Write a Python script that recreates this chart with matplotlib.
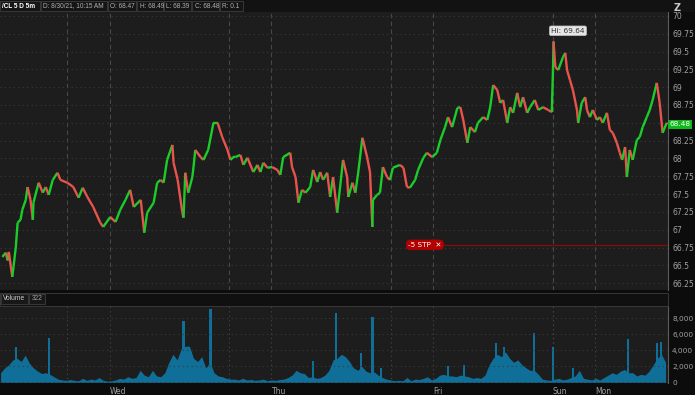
import numpy as np
import matplotlib
matplotlib.use("Agg")
import matplotlib.pyplot as plt
from matplotlib.collections import LineCollection
from matplotlib.ticker import FuncFormatter
from matplotlib.patches import Rectangle

# ---- dados (/CL 5 dias, barras de 5 min) ----
# indice da barra (0 = primeira barra do periodo) e preco de fechamento
barras = [3, 9, 12, 14, 20, 22, 26, 29, 34, 37, 43, 46, 51, 55, 56, 63, 65, 72, 77, 82,
          89, 97, 102, 114, 124, 133, 140, 148, 158, 170, 175, 187, 196, 204, 213, 221, 227, 239, 245, 250,
          261, 267, 273, 278, 284, 293, 295, 302, 310, 312, 315, 320, 327, 329, 332, 341, 346, 354, 363, 370,
          378, 387, 392, 397, 400, 409,
          414, 421, 431, 438, 443, 448, 455, 463, 472, 477, 482, 494, 497, 503, 508, 514, 520, 528, 533, 540,
          545, 550, 557, 562, 567, 574, 579, 584, 591, 593, 600, 605, 610, 617, 618, 625, 630, 634, 635, 642,
          647, 652, 659, 664, 669, 681, 687, 693, 698, 707, 712, 721, 727,
          736, 744, 750, 758, 763, 770, 779, 784, 789, 796, 801, 809, 814, 823, 830, 835, 840, 847, 852, 857,
          864, 869, 874, 881, 886, 891, 898, 903, 911, 917, 925, 934, 940,
          942, 943, 946, 951, 959, 963, 966, 971, 976, 983, 985, 991, 997, 1000, 1005, 1010, 1017, 1022, 1027, 1034,
          1039, 1044, 1051, 1056, 1060, 1065, 1068, 1073, 1078, 1085, 1090, 1095, 1102, 1107, 1112, 1119, 1124, 1129, 1136, 1137]

precos = [66.62, 66.68, 66.57, 66.69, 66.34, 66.48, 66.76, 67.10, 67.14, 67.28, 67.42, 67.60, 67.42, 67.14, 67.38, 67.60, 67.66, 67.52, 67.60, 67.49,
          67.70, 67.80, 67.70, 67.66, 67.60, 67.45, 67.59, 67.46, 67.32, 67.10, 67.04, 67.18, 67.11, 67.28, 67.42, 67.56, 67.32, 67.42, 66.96, 67.24,
          67.38, 67.66, 67.70, 67.66, 67.98, 68.19, 67.94, 67.70, 67.24, 67.17, 67.80, 67.52, 67.74, 67.88, 68.12, 68.02, 67.98, 68.12, 68.50, 68.50,
          68.30, 68.12, 67.98, 68.02, 68.02, 68.05,
          67.91, 68.01, 67.81, 67.91, 67.81, 67.94, 67.87, 67.88, 67.84, 67.77, 68.02, 68.08, 67.88, 67.74, 67.38, 67.56, 67.52, 67.60, 67.84, 67.67,
          67.81, 67.70, 67.80, 67.46, 67.74, 67.24, 67.60, 67.98, 67.74, 67.46, 67.66, 67.52, 67.81, 68.29, 68.26, 68.02, 67.81, 67.04, 67.42, 67.49,
          67.52, 67.88, 67.74, 67.70, 67.87, 67.91, 67.87, 67.60, 67.59, 67.70, 67.84, 68.01, 68.08,
          68.02, 68.08, 68.26, 68.44, 68.58, 68.44, 68.71, 68.72, 68.54, 68.22, 68.44, 68.37, 68.50, 68.58, 68.54, 68.72, 69.03, 68.96, 68.78, 68.82,
          68.50, 68.72, 68.64, 68.92, 68.72, 68.86, 68.64, 68.72, 68.82, 68.68, 68.72, 68.68, 68.65,
          69.24, 69.64, 69.28, 69.24, 69.42, 69.48, 69.24, 69.10, 68.96, 68.68, 68.50, 68.78, 68.86, 68.68, 68.58, 68.68, 68.54, 68.58, 68.50, 68.64,
          68.40, 68.36, 68.22, 68.08, 67.98, 68.16, 67.74, 68.12, 67.98, 68.26, 68.30, 68.44, 68.58, 68.68, 68.82, 69.06, 68.78, 68.36, 68.50, 68.48]

# volume "de fundo" amostrado a cada 7 barras
passo_volume = 7
volumes = [1200, 1800, 2200, 2800, 3000, 2600, 3400, 2400, 1800, 1400, 1100, 1200, 1000, 700, 400, 300, 250, 350, 250, 200,
           500, 250, 400, 300, 600, 250, 150, 200, 300, 500, 400, 700, 500, 600, 1500, 900, 700, 1500, 800, 700,
           1200, 2500, 3500, 2800, 4200, 4500, 4500, 3000, 2600, 3200, 1800, 2500, 1200, 800, 700, 500, 400, 400, 300, 500,
           300, 350, 250, 300, 400, 200, 300, 250, 350, 400, 600, 900, 1500, 1200, 1100, 600, 700, 500, 600, 900,
           1500, 2800, 3000, 3500, 3200, 2600, 1800, 1500, 2000, 1400, 1200, 1300, 900, 600, 400, 300, 200, 250, 200, 600,
           200, 400, 350, 500, 700, 300, 500, 900, 1000, 800, 800, 700, 900, 800, 700, 500, 600, 500, 900, 2200,
           3000, 3500, 3200, 3800, 3000, 2500, 2800, 2200, 1800, 1500, 1500, 1000, 400, 300, 250, 400, 500, 300, 400, 600,
           800, 1500, 500, 400, 300, 500, 300, 600, 900, 1200, 1000, 1400, 1600, 1200, 1200, 800, 1000, 900, 1400, 2200,
           3000, 3500, 2500]

# picos isolados de volume (barra, volume)
picos_barra = [26, 83, 312, 358, 533, 572, 615, 634, 649, 763, 790, 845, 859, 910, 942, 976, 1070, 1119, 1126]
picos_volume = [4400, 5500, 7700, 9200, 2600, 8600, 3600, 8100, 1750, 2000, 2100, 4900, 4400, 6100, 4400, 1750, 5400, 4900, 5000]

# barras onde comeca cada sessao (18h) e onde muda o dia (meia-noite)
inicio_sessao = [114, 390, 666, 942]
troca_dia = [186, 462, 738, 942, 1014]
nomes_dias = ["Wed", "Thu", "Fri", "Sun", "Mon"]

ultimo_preco = 68.48
maxima = 69.64
preco_stop = 66.79

# cores do tema escuro
fundo = "#0c0c0c"
fundo_painel = "#1d1d1d"
cor_grade = "#3a3a3a"
cor_texto = "#a0a0a0"
verde = "#1ccc2a"
vermelho = "#e8544c"
azul_vol = "#0f6f99"

fig = plt.figure(figsize=(6.95, 3.95), dpi=100, facecolor=fundo)
ax = fig.add_axes([0.0, 0.266, 0.961, 0.704], facecolor=fundo_painel)
ax_vol = fig.add_axes([0.0, 0.030, 0.961, 0.195], facecolor=fundo_painel, sharex=ax)

# ---- grafico de preco: cada trecho verde se subiu, vermelho se caiu ----
x = np.array(barras)
y = np.array(precos)
segmentos = [[(x[i - 1], y[i - 1]), (x[i], y[i])] for i in range(1, len(x))]
cores = [verde if y[i] >= y[i - 1] else vermelho for i in range(1, len(x))]
ax.add_collection(LineCollection(segmentos, colors=cores, linewidths=1.7, capstyle="butt"))

ax.set_xlim(-1, 1138)
ax.set_ylim(66.157, 70.056)
ax.set_yticks(np.arange(66.25, 70.01, 0.25))
# o 68.5 fica escondido atras da etiqueta do ultimo preco
ax.yaxis.set_major_formatter(FuncFormatter(lambda v, p: "" if abs(v - 68.5) < 0.01 else f"{v:g}"))
ax.yaxis.tick_right()
ax.tick_params(axis="y", length=0, pad=3, labelsize=5.5, labelcolor=cor_texto)
ax.tick_params(axis="x", bottom=False, labelbottom=False)
ax.grid(axis="y", color=cor_grade, linestyle=(0, (1, 3)), linewidth=0.8)
for s in ["top", "left", "bottom"]:
    ax.spines[s].set_visible(False)
ax.spines["right"].set_color("#5c5c5c")
ax.spines["right"].set_linewidth(0.8)

# linhas verticais dos dias
for b in inicio_sessao + troca_dia:
    ax.axvline(b, color="#474747", linestyle=(0, (4, 3)), linewidth=0.8, zorder=0)
    ax_vol.axvline(b, color="#474747", linestyle=(0, (1, 3)), linewidth=0.8, zorder=0)

# etiqueta da maxima
ax.text(939, 69.79, f"Hi: {maxima}", fontsize=5.3, color="#333333", ha="left", va="center",
        bbox=dict(boxstyle="round,pad=0.25", fc="#e6e6e6", ec="#bbbbbb", lw=0.5))

# ultimo preco na escala da direita
ax.text(1.003, ultimo_preco, f"{ultimo_preco:.2f}", transform=ax.get_yaxis_transform(),
        fontsize=5.3, color="white", ha="left", va="center",
        bbox=dict(boxstyle="square,pad=0.2", fc="#10b81e", ec="none"), clip_on=False)

# ordem de stop
ax.plot([718, 1138], [preco_stop, preco_stop], color="#8a0a0a", linewidth=0.9)
ax.text(695, preco_stop, "-5 STP  ✕", fontsize=5.2, color="white", ha="left", va="center",
        bbox=dict(boxstyle="round,pad=0.3,rounding_size=0.6", fc="#b20000", ec="none"))

# ---- volume ----
pos_vol = np.arange(len(volumes)) * passo_volume
ax_vol.fill_between(pos_vol, 0, volumes, color=azul_vol, linewidth=0)
ax_vol.bar(picos_barra, picos_volume, width=4, color=azul_vol, linewidth=0)
ax_vol.set_ylim(-100, 9500)
ax_vol.set_yticks([0, 2000, 4000, 6000, 8000])
ax_vol.yaxis.set_major_formatter(FuncFormatter(lambda v, p: f"{int(v):,}"))
ax_vol.yaxis.tick_right()
ax_vol.tick_params(axis="y", length=0, pad=3, labelsize=5.3, labelcolor=cor_texto)
ax_vol.grid(axis="y", color=cor_grade, linestyle=(0, (1, 3)), linewidth=0.8)
ax_vol.set_xticks(troca_dia)
ax_vol.set_xticklabels(nomes_dias)
ax_vol.tick_params(axis="x", length=0, pad=3, labelsize=5.5, labelcolor=cor_texto)
for lab in ax_vol.get_xticklabels():
    lab.set_horizontalalignment("left")
for s in ["top", "left", "bottom"]:
    ax_vol.spines[s].set_visible(False)
ax_vol.spines["right"].set_color("#5c5c5c")
ax_vol.spines["right"].set_linewidth(0.8)

# ---- cabecalho de cima ----
fig.patches.append(Rectangle((0, 0.970), 1, 0.03, transform=fig.transFigure, fc="#121212", ec="none"))
caixas = [("/CL 5 D 5m", 0, 40), ("D: 8/30/21, 10:15 AM", 41, 107), ("O: 68.47", 108, 136),
          ("H: 68.49", 137, 163), ("L: 68.39", 164, 191), ("C: 68.48", 192, 219), ("R: 0.1", 220, 243)]
for i, (txt, x0, x1) in enumerate(caixas):
    fig.patches.append(Rectangle((x0 / 695, 1 - 11 / 395), (x1 - x0) / 695, 10 / 395, transform=fig.transFigure,
                                 fc="#151515", ec="#3e3e3e", lw=0.6))
    fig.text((x0 + 2.5) / 695, 1 - 6 / 395, txt, fontsize=4.7, family="Liberation Sans", ha="left", va="center",
             color="white" if i == 0 else "#b0b0b0", fontweight="bold" if i == 0 else "normal")
fig.text(677 / 695, 1 - 8 / 395, "Z", fontsize=7, color="#c8c8c8", fontweight="bold", ha="center", va="center")

# ---- faixa do titulo do volume ----
fig.patches.append(Rectangle((0, 1 - 306 / 395), 0.961, 13 / 395, transform=fig.transFigure,
                             fc="#101010", ec="#3e3e3e", lw=0.6))
fig.patches.append(Rectangle((1 / 695, 1 - 304 / 395), 27 / 695, 10 / 395, transform=fig.transFigure,
                             fc="#181818", ec="#3e3e3e", lw=0.6))
fig.patches.append(Rectangle((29 / 695, 1 - 304 / 395), 16 / 695, 10 / 395, transform=fig.transFigure,
                             fc="#181818", ec="#3e3e3e", lw=0.6))
fig.text(3 / 695, 1 - 299 / 395, "Volume", fontsize=4.8, family="Liberation Sans", color="#d0d0d0",
         ha="left", va="center")
fig.text(31.5 / 695, 1 - 299 / 395, "322", fontsize=4.8, family="Liberation Sans", color="#a0a0a0",
         ha="left", va="center")

plt.savefig("out.png", dpi=100, facecolor=fig.get_facecolor())
print("Grafico salvo como out.png")
